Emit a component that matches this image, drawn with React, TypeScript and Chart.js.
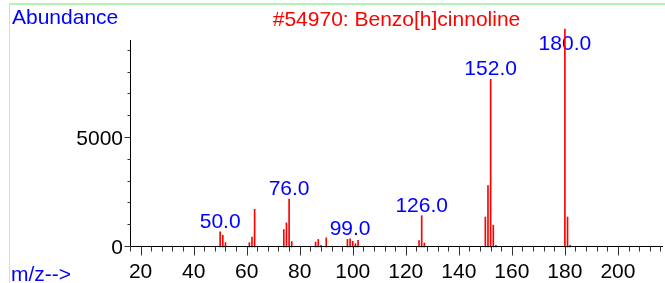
import React, { useEffect, useRef } from 'react';
import { Chart, registerables } from 'chart.js';

Chart.register(...registerables);

// m/z of each peak and its abundance
const mzValues = [50, 51, 52, 61, 62, 63, 74, 75, 76, 77, 86, 87, 88, 90, 98, 99, 100, 101, 102, 125, 126, 127, 150, 151, 152, 153, 154, 180, 181, 182];
const abundances = [700, 540, 200, 200, 460, 1730, 800, 1110, 2200, 250, 230, 350, 80, 420, 350, 380, 260, 150, 310, 290, 1435, 185, 1375, 2820, 7700, 1000, 80, 9999, 1375, 80];
const labeledPeaks = [50, 76, 99, 126, 152, 180];

const xTicks = [16, 20, 24, 28, 32, 36, 40, 44, 48, 52, 56, 60, 64, 68, 72, 76, 80, 84, 88, 92, 96, 100, 104, 108, 112, 116, 120, 124, 128, 132, 136, 140, 144, 148, 152, 156, 160, 164, 168, 172, 176, 180, 184, 188, 192, 196, 200, 204, 208, 212, 216];
const xLabelTicks = [20, 40, 60, 80, 100, 120, 140, 160, 180, 200];
const yTicks = [0, 1000, 2000, 3000, 4000, 5000, 6000, 7000, 8000, 9000];
const yLabelTicks = [0, 5000];

const titleText = '#54970: Benzo[h]cinnoline';
const yAxisTitle = 'Abundance';
const xAxisTitle = 'm/z-->';

const FONT = '21px "Liberation Sans", Arial, sans-serif';

export default function App() {
  const ref = useRef<HTMLCanvasElement>(null);

  useEffect(() => {
    document.body.style.margin = '0';
    const canvas = ref.current!;

    const decor = {
      id: 'decor',
      beforeDraw(chart: any) {
        const ctx = chart.ctx;
        ctx.save();
        ctx.fillStyle = '#ffffff';
        ctx.fillRect(0, 0, chart.width, chart.height);
        ctx.fillStyle = '#b3f3b3';
        ctx.fillRect(9, 3, chart.width - 9, 2);
        ctx.fillRect(9, 3, 1, chart.height - 3);
        ctx.restore();
      },
      beforeDatasetsDraw(chart: any) {
        const ctx = chart.ctx;
        const xs = chart.scales.x;
        const ys = chart.scales.y;
        const area = chart.chartArea;
        ctx.save();
        ctx.font = FONT;
        ctx.fillStyle = '#0000ff';
        ctx.textAlign = 'center';
        ctx.textBaseline = 'alphabetic';
        labeledPeaks.forEach((mz) => {
          const i = mzValues.indexOf(mz);
          const px = xs.getPixelForValue(mz);
          const top = ys.getPixelForValue(abundances[i]);
          const y = Math.max(top - 4, area.top + 10);
          ctx.fillText(mz.toFixed(1), px, y);
        });
        ctx.restore();
      },
      afterDraw(chart: any) {
        const ctx = chart.ctx;
        const xs = chart.scales.x;
        const ys = chart.scales.y;
        const area = chart.chartArea;
        ctx.save();
        ctx.strokeStyle = '#000000';
        ctx.lineWidth = 1;
        const axX = Math.round(area.left) + 0.5;
        const axY = Math.round(area.bottom) - 0.5;
        ctx.beginPath();
        ctx.moveTo(axX, area.top);
        ctx.lineTo(axX, axY);
        ctx.moveTo(area.left, axY);
        ctx.lineTo(area.right, axY);
        ctx.stroke();

        ctx.strokeStyle = '#333333';
        ctx.beginPath();
        xTicks.forEach((v) => {
          const px = Math.round(xs.getPixelForValue(v)) + 0.5;
          const len = xLabelTicks.includes(v) ? 9 : 5;
          ctx.moveTo(px, axY);
          ctx.lineTo(px, axY + len);
        });
        yTicks.forEach((v) => {
          const py = Math.round(ys.getPixelForValue(v)) - 0.5;
          const len = yLabelTicks.includes(v) ? 6 : 3;
          ctx.moveTo(axX - len, py);
          ctx.lineTo(axX, py);
        });
        ctx.stroke();

        ctx.font = FONT;
        ctx.fillStyle = '#000000';
        ctx.textBaseline = 'alphabetic';
        ctx.textAlign = 'center';
        xLabelTicks.forEach((v) => {
          ctx.fillText(String(v), xs.getPixelForValue(v), 278);
        });
        ctx.textAlign = 'right';
        yLabelTicks.forEach((v) => {
          ctx.fillText(String(v), area.left - 7, ys.getPixelForValue(v) + 7);
        });

        ctx.fillStyle = '#0000ff';
        ctx.textAlign = 'left';
        ctx.fillText(yAxisTitle, 12, 23.5);
        ctx.fillText(xAxisTitle, 11, 281);

        ctx.fillStyle = '#ff0000';
        ctx.textAlign = 'center';
        ctx.fillText(titleText, (area.left + area.right) / 2, 26);
        ctx.restore();
      },
    };

    const chart = new Chart(canvas, {
      type: 'bar',
      data: {
        datasets: [
          {
            data: mzValues.map((x, i) => ({ x, y: abundances[i] })),
            backgroundColor: '#ff0000',
            barThickness: 1,
            clip: false as any,
          },
        ],
      },
      options: {
        animation: false,
        responsive: false,
        devicePixelRatio: 1,
        layout: { padding: { top: 40, right: 2, left: 0, bottom: 0 } },
        plugins: { legend: { display: false }, tooltip: { enabled: false } },
        scales: {
          x: {
            type: 'linear',
            min: 16,
            max: 217,
            offset: false,
            grid: { display: false, offset: false },
            border: { display: false },
            ticks: { display: false },
            afterBuildTicks: (s: any) => {
              s.ticks = xTicks.map((v) => ({ value: v }));
            },
            afterFit: (s: any) => {
              s.height = 36;
            },
          },
          y: {
            type: 'linear',
            min: 0,
            max: 9500,
            grid: { display: false },
            border: { display: false },
            ticks: { display: false },
            afterBuildTicks: (s: any) => {
              s.ticks = yTicks.map((v) => ({ value: v }));
            },
            afterFit: (s: any) => {
              s.width = 130;
            },
          },
        },
      } as any,
      plugins: [decor],
    });

    return () => chart.destroy();
  }, []);

  return <canvas ref={ref} width={665} height={283} style={{ display: 'block' }} />;
}
